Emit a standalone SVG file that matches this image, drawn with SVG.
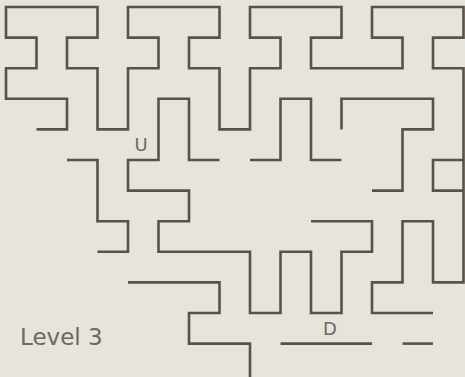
<svg xmlns="http://www.w3.org/2000/svg" width="465" height="377" viewBox="0 0 465 377">
<style>
.w{fill:none;stroke:#5c5145;stroke-width:2.6;stroke-linejoin:miter;stroke-linecap:butt}
.t{font-family:"DejaVu Sans","Liberation Sans",sans-serif;fill:#6e6861}
</style>
<rect width="465" height="377" fill="#e7e4dd"/>
<g id="maze">
<path class="w" d="M36.5 129.4 H67 V98.8 H6 V68.2 H36.5 V37.6 H6 V7 H97.5 V37.6 H67 V68.2 H97.5 V129.4 H128 V68.2 H158.5 V37.6 H128 V7 H219.5 V37.6 H189 V68.2 H219.5 V129.4 H250 V68.2 H280.5 V37.6 H250 V7 H341.5 V37.6 H311 V68.2 H402.5 V37.6 H372 V7 H463.5 V37.6 H433 V68.2 H463.5 V282.4 H433 V221.2 H402.5 V282.4 H372 V313 H433"/>
<path class="w" d="M219.5 160 H189 V98.8 H158.5 V160 H128 V190.6 H189 V221.2 H158.5 V251.8 H250 V313 H280.5 V251.8 H311 V313 H341.5 V251.8 H372 V221.2 H311"/>
<path class="w" d="M67 160 H97.5 V221.2 H128 V251.8 H97.5"/>
<path class="w" d="M250 160 H280.5 V98.8 H311 V160 H341.5"/>
<path class="w" d="M341.5 129.4 V98.8 H433 V129.4 H402.5 V190.6 H372"/>
<path class="w" d="M463.5 160 H433 V190.6 H463.5"/>
<path class="w" d="M128 282.4 H219.5 V313 H189 V343.6 H250 V377"/>
<path class="w" d="M280.5 343.6 H372"/>
<path class="w" d="M402.5 343.6 H433"/>
</g>
<g id="labels">
<text class="t" x="141" y="151" font-size="18" text-anchor="middle">U</text>
<text class="t" x="330" y="335" font-size="18" text-anchor="middle">D</text>
<text class="t" x="20" y="345" font-size="23">Level 3</text>
</g>
</svg>
